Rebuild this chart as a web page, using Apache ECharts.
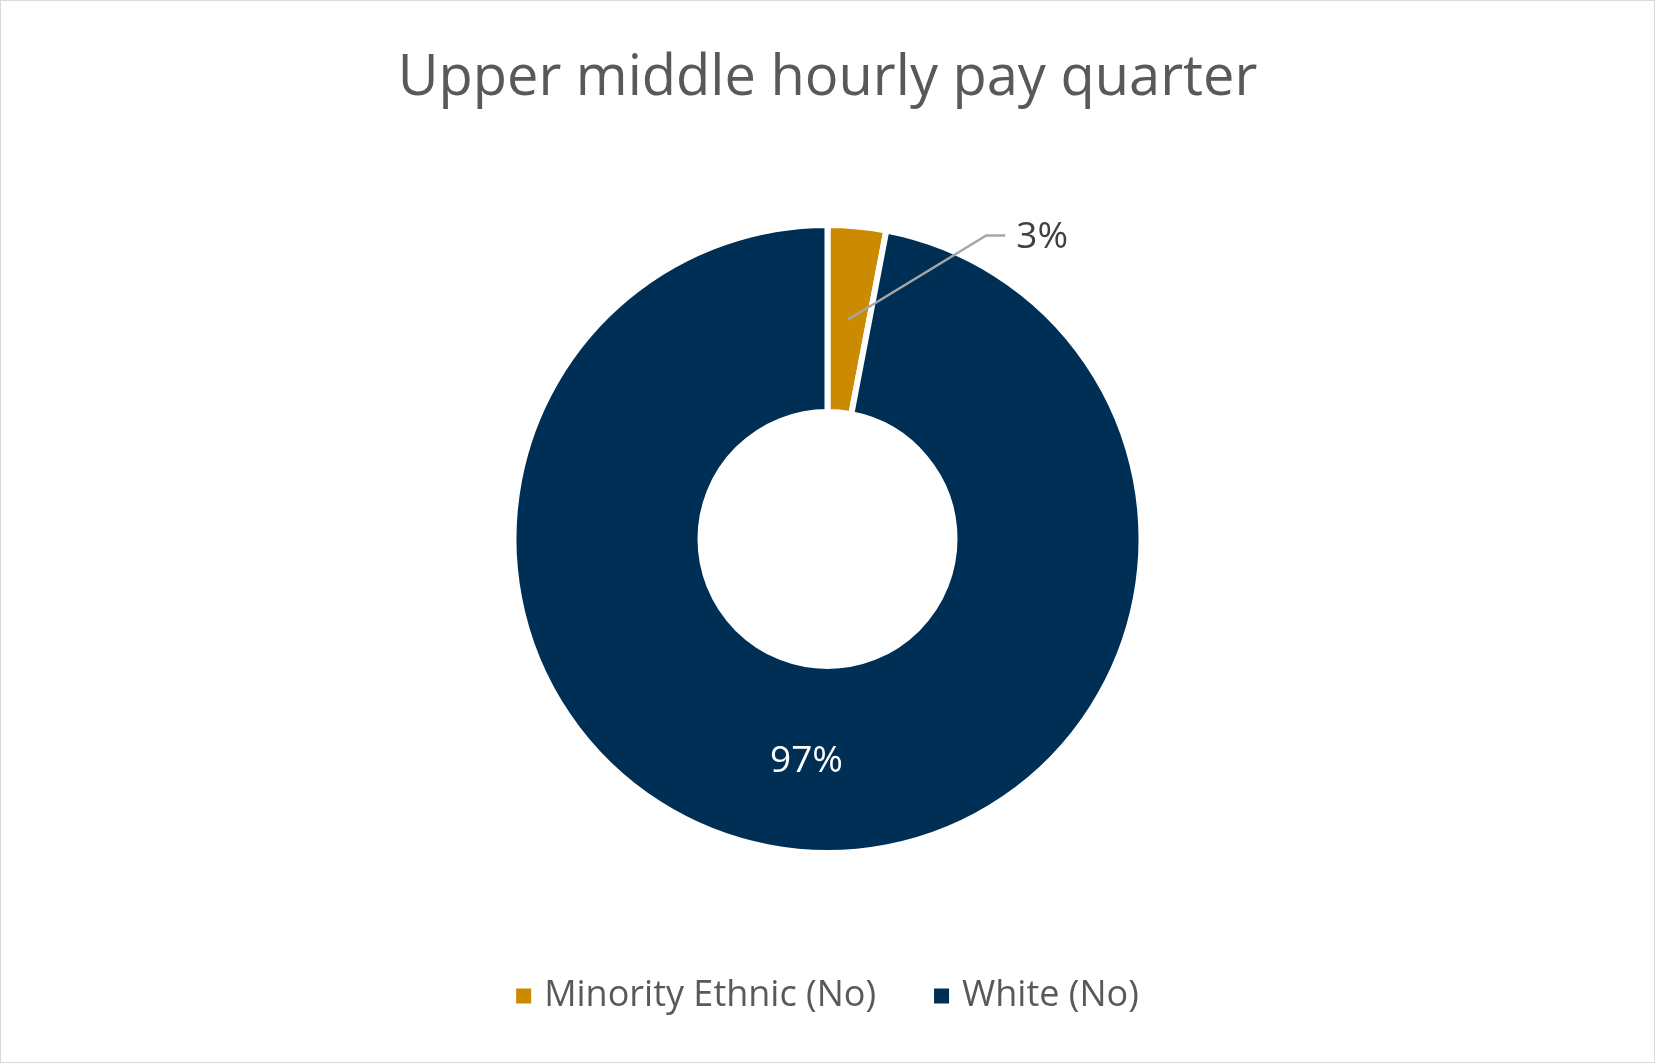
<!DOCTYPE html>
<html>
<head>
<meta charset="utf-8">
<script src="https://cdn.jsdelivr.net/npm/echarts@6/dist/echarts.min.js"></script>
<style>
  html, body { margin: 0; padding: 0; background: #fff; }
  #main { width: 1655px; height: 1063px; box-sizing: border-box; border: 1px solid #d9d9d9; }
</style>
</head>
<body>
<div id="main"></div>
<script>
// 数据
var categories = ['Minority Ethnic (No)', 'White (No)'];
var shares = [3, 97];
var colors = ['#CC8A00', '#002F56'];
var radius = [127, 314];

var chart = echarts.init(document.getElementById('main'));

// 3% 的引导线从扇区中部开始，画在扇区之上
function calloutLayout(params) {
    if (params.dataIndex !== 0 || !params.labelLinePoints) return {};
    var p0 = params.labelLinePoints[0], p1 = params.labelLinePoints[1];
    var dx = p1[0] - p0[0], dy = p1[1] - p0[1];
    var len = Math.sqrt(dx * dx + dy * dy) || 1;
    dx /= len; dy /= len;
    var back = (radius[1] - radius[0]) / 2;
    var s = [p0[0] - dx * back, p0[1] - dy * back];
    var e = [s[0] + 138, s[1] - 84];
    var f = [e[0] + 19, e[1]];
    return {
        x: f[0] + 11,
        y: f[1] + 2,
        align: 'left',
        verticalAlign: 'middle',
        labelLinePoints: [s, e, f]
    };
}

var option = {
    title: {
        text: 'Upper middle hourly pay quarter',
        left: 'center',
        top: 45,
        textStyle: {
            fontFamily: 'Open Sans',
            fontSize: 56,
            fontWeight: 'normal',
            color: '#595959'
        }
    },
    legend: {
        data: categories,
        bottom: 43,
        left: 'center',
        icon: 'rect',
        itemWidth: 15,
        itemHeight: 15,
        itemGap: 58,
        itemStyle: { borderWidth: 0 },
        textStyle: {
            fontFamily: 'Open Sans',
            fontSize: 36,
            color: '#595959',
            padding: [0, 0, 0, 8]
        }
    },
    series: [{
        type: 'pie',
        center: ['50%', 538],
        radius: radius,
        startAngle: 90,
        clockwise: true,
        avoidLabelOverlap: false,
        silent: true,
        z: 2,
        itemStyle: {
            borderColor: '#fff',
            borderWidth: 6
        },
        label: {
            fontFamily: 'Open Sans',
            fontSize: 37,
            formatter: '{d}%'
        },
        data: [{
            name: categories[0],
            value: shares[0],
            itemStyle: { color: colors[0] },
            label: { show: false }
        }, {
            name: categories[1],
            value: shares[1],
            itemStyle: { color: colors[1] },
            label: { show: true, position: 'inside', color: '#ffffff' },
            labelLine: { show: false }
        }]
    }, {
        // 透明的叠加层，只负责 3% 的标签和引导线
        type: 'pie',
        center: ['50%', 538],
        radius: radius,
        startAngle: 90,
        clockwise: true,
        avoidLabelOverlap: false,
        silent: true,
        z: 5,
        itemStyle: {
            color: 'rgba(0,0,0,0)',
            borderWidth: 0
        },
        label: {
            fontFamily: 'Open Sans',
            fontSize: 37,
            formatter: '{d}%'
        },
        labelLayout: calloutLayout,
        data: [{
            name: categories[0],
            value: shares[0],
            label: { show: true, position: 'outside', color: '#404040' },
            labelLine: {
                show: true,
                length: 20,
                length2: 20,
                lineStyle: { color: '#A6A6A6', width: 2.5 }
            }
        }, {
            name: categories[1],
            value: shares[1],
            label: { show: false },
            labelLine: { show: false }
        }]
    }]
};

chart.setOption(option);
</script>
</body>
</html>
